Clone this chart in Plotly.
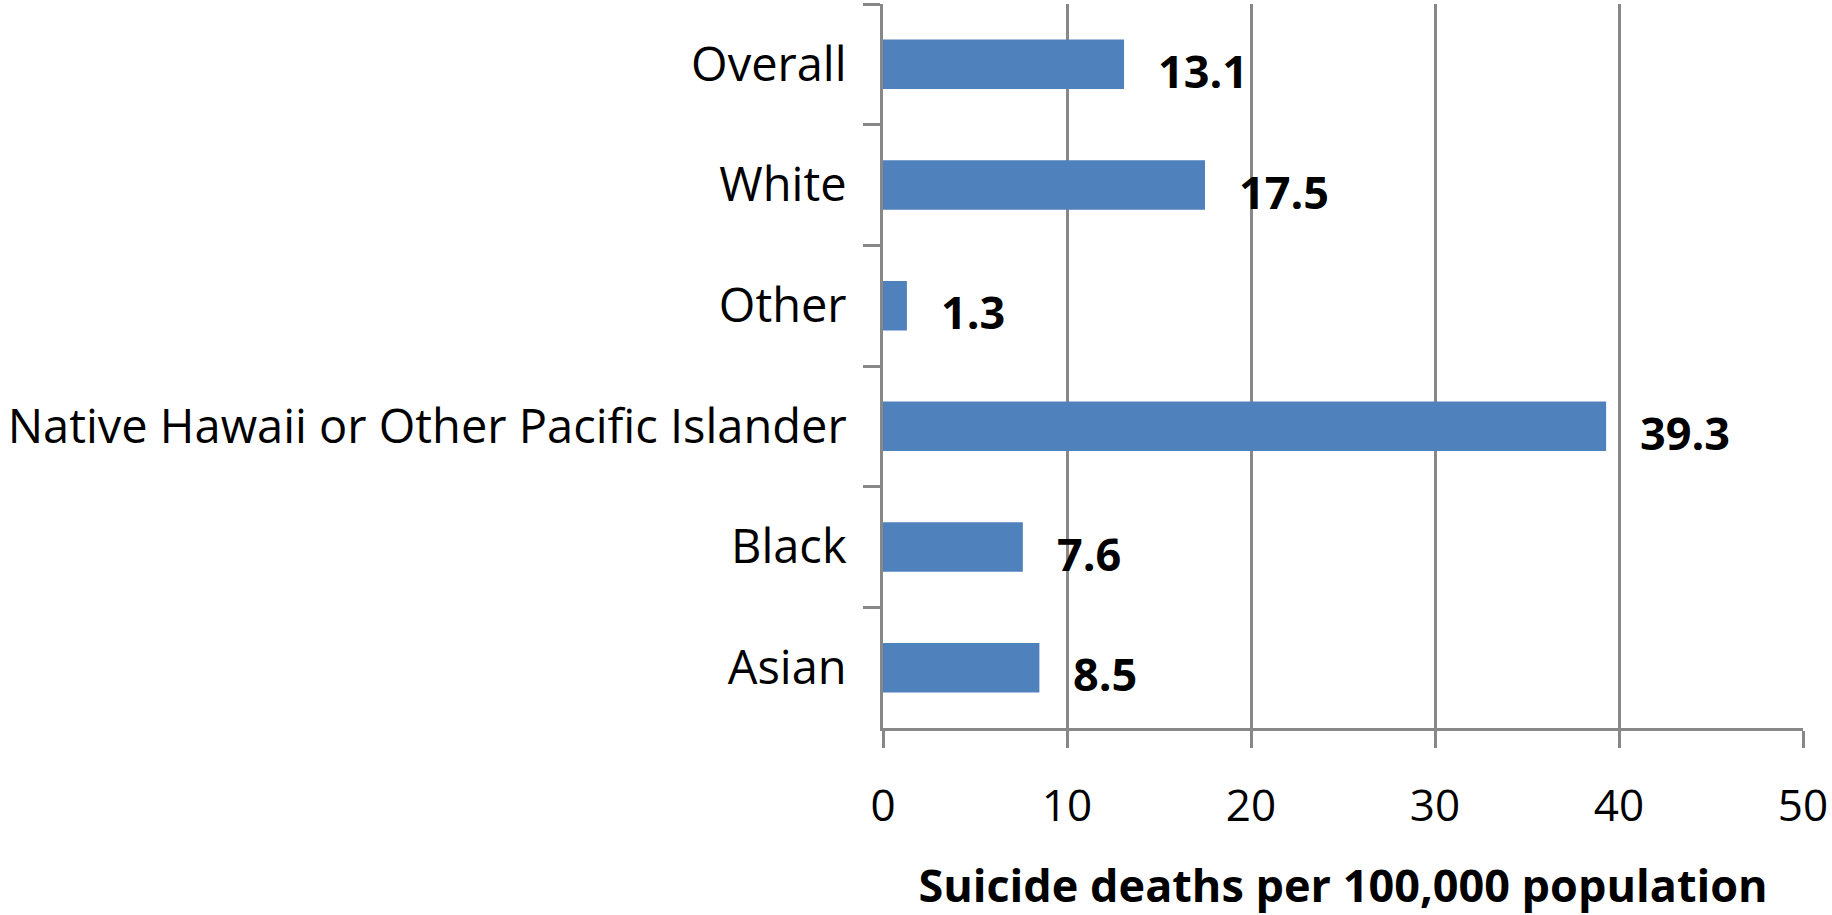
import plotly.graph_objects as go

categories = ["Overall", "White", "Other", "Native Hawaii or Other Pacific Islander", "Black", "Asian"]
values = [13.1, 17.5, 1.3, 39.3, 7.6, 8.5]
labels = ["13.1", "17.5", "1.3", "39.3", "7.6", "8.5"]
x_ticks = [0, 10, 20, 30, 40, 50]
x_title = "Suicide deaths per 100,000 population"

BAR = "#4F81BD"
GRID = "#888888"
FONT = "Open Sans"

fig = go.Figure()
fig.add_trace(go.Bar(
    x=values, y=categories, orientation="h",
    marker=dict(color=BAR, line=dict(width=0)),
    width=0.41, hoverinfo="skip",
))

for v, c, t in zip(values, categories, labels):
    fig.add_annotation(
        x=v, y=c, text=f"<b>{t}</b>", showarrow=False,
        xanchor="left", yanchor="middle", xshift=32, yshift=-6,
        font=dict(family=FONT, size=45, color="#000000"),
    )

fig.update_layout(
    width=1832, height=915,
    margin=dict(l=883, r=29, t=4, b=187, pad=0),
    plot_bgcolor="white", paper_bgcolor="white",
    showlegend=False,
    font=dict(family=FONT, size=44, color="#000000"),
    bargap=0.59,
)
fig.update_xaxes(
    range=[0, 50], tickvals=x_ticks, ticktext=[str(v) for v in x_ticks],
    showgrid=True, gridcolor=GRID, gridwidth=3,
    showline=True, linecolor=GRID, linewidth=3,
    ticks="outside", ticklen=17, tickwidth=3, tickcolor=GRID,
    zeroline=False, ticklabelstandoff=20,
    tickfont=dict(family=FONT, size=44, color="#000000"),
    title=dict(text=f"<b>{x_title}</b>", font=dict(family=FONT, size=45, color="#000000"), standoff=42),
    fixedrange=True,
)
fig.update_yaxes(
    categoryorder="array", categoryarray=categories, autorange=False, range=[5.5, -0.5],
    showgrid=False, showline=True, linecolor=GRID, linewidth=3,
    ticks="outside", ticklen=17, tickwidth=3, tickcolor=GRID, tickson="boundaries",
    ticklabelstandoff=24,
    tickfont=dict(family=FONT, size=47, color="#000000"),
    fixedrange=True,
)

fig.write_html("out.html")
